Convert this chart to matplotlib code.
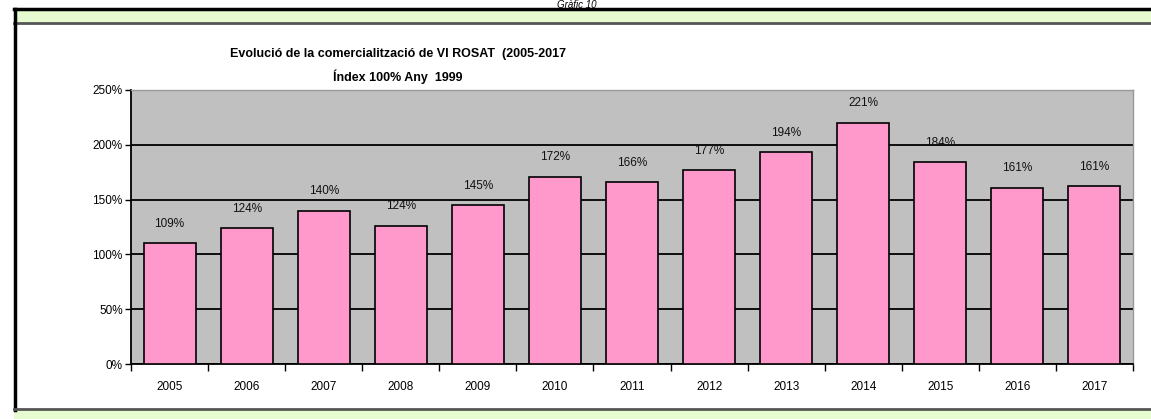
import matplotlib
matplotlib.use("Agg")
import matplotlib.pyplot as plt
from matplotlib.patches import Rectangle
import numpy as np

years = ["2005", "2006", "2007", "2008", "2009", "2010", "2011",
         "2012", "2013", "2014", "2015", "2016", "2017"]
values = [110, 124, 140, 126, 145, 171, 166, 177, 193, 220, 184, 161, 162]
value_labels = ["109%", "124%", "140%", "124%", "145%", "172%", "166%",
                "177%", "194%", "221%", "184%", "161%", "161%"]
yticks = [0, 50, 100, 150, 200, 250]

plt.rcParams['font.family'] = ['Liberation Sans', 'DejaVu Sans']

W, H = 1151, 419
fig = plt.figure(figsize=(W / 100, H / 100), dpi=100)

# outer frame of the page
fig.patches.append(Rectangle((14 / W, 1 - 22 / H), 1, 12 / H, transform=fig.transFigure,
                             facecolor="#e6fcd0", edgecolor="none"))
fig.add_artist(plt.Line2D([14 / W, 1], [1 - 9.5 / H] * 2, color="black", lw=2.5))
fig.add_artist(plt.Line2D([14 / W, 1], [1 - 23 / H] * 2, color="#555555", lw=2))
fig.add_artist(plt.Line2D([14.5 / W] * 2, [1 - 9 / H, 1 - 410 / H], color="black", lw=2.5))
fig.add_artist(plt.Line2D([14 / W, 1], [1 - 409 / H] * 2, color="#555555", lw=2))
fig.patches.append(Rectangle((14 / W, 0), 1, 9 / H, transform=fig.transFigure,
                             facecolor="#e6fcd0", edgecolor="none"))
fig.text(577 / W, 1 - 0.5 / H, "Gràfic 10", ha="center", va="top",
         fontsize=7, style="italic")

ax = fig.add_axes([131 / W, 55 / H, 1002 / W, 274 / H])
ax.set_facecolor("#c0c0c0")
x = np.arange(len(years))
ax.bar(x, values, width=0.675, color="#ff99cc", edgecolor="black", linewidth=1.2, zorder=3)
for xi, v, lab in zip(x, values, value_labels):
    ax.annotate(lab, (xi, v), xytext=(0, 14), textcoords="offset points",
                ha="center", va="center", fontsize=8.5, color="#111111", zorder=4)

ax.set_xlim(-0.5, len(years) - 0.5)
ax.set_ylim(0, 250)
ax.set_yticks(yticks)
ax.set_yticklabels([f"{t}%" for t in yticks], fontsize=8.5)
ax.yaxis.grid(True, color="black", lw=1.3, zorder=1)
ax.set_xticks(x)
ax.set_xticklabels(years, fontsize=8.5)
ax.set_xticks(np.arange(len(years) + 1) - 0.5, minor=True)
ax.tick_params(axis="x", which="major", length=0, pad=12)
ax.tick_params(axis="x", which="minor", length=5, width=1, direction="out")
ax.tick_params(axis="y", length=4, width=1, direction="out", pad=2)
for side in ["left", "bottom"]:
    ax.spines[side].set_color("black")
    ax.spines[side].set_linewidth(1.3)
for side in ["top", "right"]:
    ax.spines[side].set_color("#999999")
    ax.spines[side].set_linewidth(1)

fig.text(398 / W, 1 - 54 / H, "Evolució de la comercialització de VI ROSAT  (2005-2017",
         ha="center", va="center", fontsize=9, fontweight="bold")
fig.text(398 / W, 1 - 77 / H, "Índex 100% Any  1999",
         ha="center", va="center", fontsize=9, fontweight="bold")

fig.savefig("out.png", dpi=100)
